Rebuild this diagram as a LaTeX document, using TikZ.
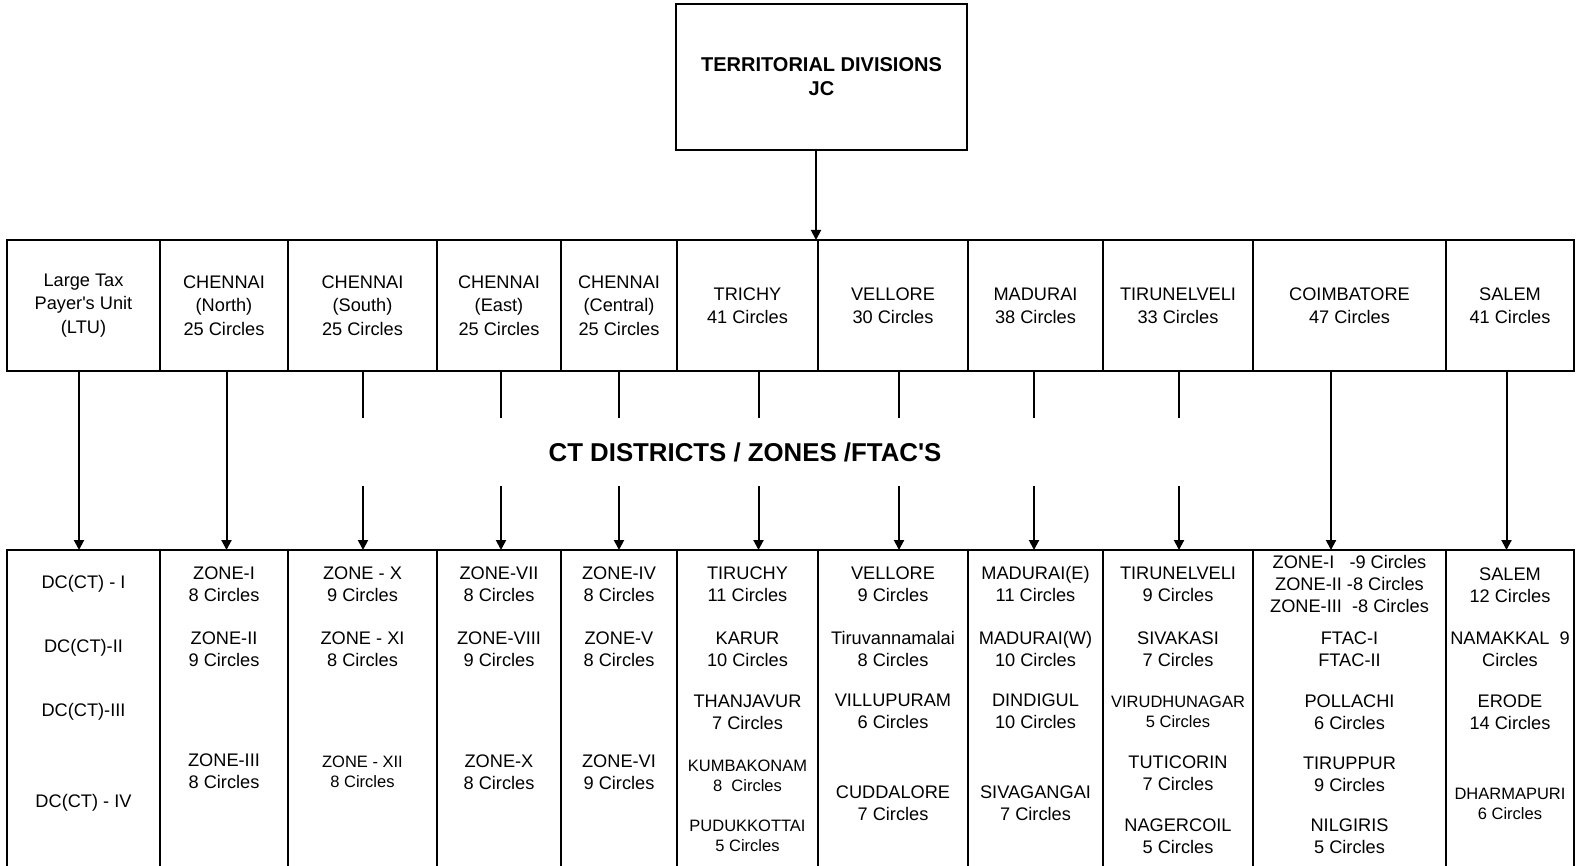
\documentclass[tikz,border=0pt]{standalone}
\usepackage{fontspec}
\setmainfont{Liberation Sans}[Ligatures=TeXOff]
\usetikzlibrary{arrows.meta}

\begin{document}
\begin{tikzpicture}[
    x=1pt, y=-1pt,
    headbox/.style={rectangle, draw=black, line width=2.6pt, minimum width=291pt, minimum height=146pt, inner sep=0pt, outer sep=0pt, align=center, font=\bfseries\fontsize{20}{24}\selectfont},
    topbox/.style={rectangle, draw=black, line width=2.6pt, minimum height=131pt, inner sep=0pt, outer sep=0pt, align=center, font=\fontsize{18.2}{23.3}\selectfont},
    lowbox/.style={rectangle, draw=black, line width=2.6pt, minimum height=330pt, inner sep=0pt, outer sep=0pt},
    item/.style={align=center, inner sep=0pt, font=\fontsize{18.2}{21.7}\selectfont},
    smallitem/.style={item, font=\fontsize{16.5}{19.5}\selectfont},
    band/.style={fill=white, inner sep=0pt, minimum width=900pt, minimum height=68pt, font=\bfseries\fontsize{25.8}{30}\selectfont},
    arrow/.style={line width=2pt, -{Triangle[length=10pt, width=10pt]}}
]
\useasboundingbox (0,0) rectangle (1585,866);

% head
\node (head) [headbox] at (821.5,77) {TERRITORIAL DIVISIONS\\JC};

% divisions
\node (ltu) [topbox, minimum width=153pt] at (83.5,305.5) {Large Tax\\Payer's Unit\\(LTU)};
\node (chN) [topbox, minimum width=128pt] at (224,305.5) {CHENNAI\\(North)\\25 Circles};
\node (chS) [topbox, minimum width=149pt] at (362.5,305.5) {CHENNAI\\(South)\\25 Circles};
\node (chE) [topbox, minimum width=124pt] at (499,305.5) {CHENNAI\\(East)\\25 Circles};
\node (chC) [topbox, minimum width=116pt] at (619,305.5) {CHENNAI\\(Central)\\25 Circles};
\node (trichy) [topbox, minimum width=141pt] at (747.5,305.5) {TRICHY\\41 Circles};
\node (vellore) [topbox, minimum width=150pt] at (893,305.5) {VELLORE\\30 Circles};
\node (madurai) [topbox, minimum width=135pt] at (1035.5,305.5) {MADURAI\\38 Circles};
\node (tvl) [topbox, minimum width=150pt] at (1178,305.5) {TIRUNELVELI\\33 Circles};
\node (cbe) [topbox, minimum width=193pt] at (1349.5,305.5) {COIMBATORE\\47 Circles};
\node (salem) [topbox, minimum width=128pt] at (1510,305.5) {SALEM\\41 Circles};

% districts / zones
\node (ltu-z) [lowbox, minimum width=153pt] at (83.5,715) {};
\node (chN-z) [lowbox, minimum width=128pt] at (224,715) {};
\node (chS-z) [lowbox, minimum width=149pt] at (362.5,715) {};
\node (chE-z) [lowbox, minimum width=124pt] at (499,715) {};
\node (chC-z) [lowbox, minimum width=116pt] at (619,715) {};
\node (trichy-z) [lowbox, minimum width=141pt] at (747.5,715) {};
\node (vellore-z) [lowbox, minimum width=150pt] at (893,715) {};
\node (madurai-z) [lowbox, minimum width=135pt] at (1035.5,715) {};
\node (tvl-z) [lowbox, minimum width=150pt] at (1178,715) {};
\node (cbe-z) [lowbox, minimum width=193pt] at (1349.5,715) {};
\node (salem-z) [lowbox, minimum width=128pt] at (1510,715) {};

% LTU
\node (dc1) [item] at (83.5,584) {DC(CT) - I};
\node (dc2) [item] at (83.5,648) {DC(CT)-II};
\node (dc3) [item] at (83.5,712) {DC(CT)-III};
\node (dc4) [item] at (83.5,803) {DC(CT) - IV};

% Chennai
\node (z1) [item] at (224,584) {ZONE-I\\8 Circles};
\node (z2) [item] at (224,649) {ZONE-II\\9 Circles};
\node (z3) [item] at (224,771) {ZONE-III\\8 Circles};
\node (z10) [item] at (362.5,584) {ZONE - X\\9 Circles};
\node (z11) [item] at (362.5,649) {ZONE - XI\\8 Circles};
\node (z12) [smallitem] at (362.5,772) {ZONE - XII\\8 Circles};
\node (z7) [item] at (499,584) {ZONE-VII\\8 Circles};
\node (z8) [item] at (499,649) {ZONE-VIII\\9 Circles};
\node (zx) [item] at (499,772) {ZONE-X\\8 Circles};
\node (z4) [item] at (619,584) {ZONE-IV\\8 Circles};
\node (z5) [item] at (619,649) {ZONE-V\\8 Circles};
\node (z6) [item] at (619,772) {ZONE-VI\\9 Circles};

% Trichy
\node (tiruchy) [item] at (747.5,584) {TIRUCHY\\11 Circles};
\node (karur) [item] at (747.5,649) {KARUR\\10 Circles};
\node (thanjavur) [item] at (747.5,712) {THANJAVUR\\7 Circles};
\node (kumbakonam) [smallitem] at (747.5,776) {KUMBAKONAM\\8\ \ Circles};
\node (pudukkottai) [smallitem] at (747.5,836) {PUDUKKOTTAI\\5 Circles};

% Vellore
\node (vlr) [item] at (893,584) {VELLORE\\9 Circles};
\node (tvm) [item] at (893,649) {Tiruvannamalai\\8 Circles};
\node (villupuram) [item] at (893,711) {VILLUPURAM\\6 Circles};
\node (cuddalore) [item] at (893,803) {CUDDALORE\\7 Circles};

% Madurai
\node (mdue) [item] at (1035.5,584) {MADURAI(E)\\11 Circles};
\node (mduw) [item] at (1035.5,649) {MADURAI(W)\\10 Circles};
\node (dindigul) [item] at (1035.5,711) {DINDIGUL\\10 Circles};
\node (sivagangai) [item] at (1035.5,803) {SIVAGANGAI\\7 Circles};

% Tirunelveli
\node (tnv) [item] at (1178,584) {TIRUNELVELI\\9 Circles};
\node (sivakasi) [item] at (1178,649) {SIVAKASI\\7 Circles};
\node (virudhunagar) [smallitem] at (1178,712) {VIRUDHUNAGAR\\5 Circles};
\node (tuticorin) [item] at (1178,773) {TUTICORIN\\7 Circles};
\node (nagercoil) [item] at (1178,836) {NAGERCOIL\\5 Circles};

% Coimbatore
\node (cbezones) [item] at (1349.5,584) {ZONE-I\ \ \ -9 Circles\\ZONE-II -8 Circles\\ZONE-III\ \ -8 Circles};
\node (ftac) [item] at (1349.5,649) {FTAC-I\\FTAC-II};
\node (pollachi) [item] at (1349.5,712) {POLLACHI\\6 Circles};
\node (tiruppur) [item] at (1349.5,774) {TIRUPPUR\\9 Circles};
\node (nilgiris) [item] at (1349.5,836) {NILGIRIS\\5 Circles};

% Salem
\node (slm) [item] at (1510,585) {SALEM\\12 Circles};
\node (namakkal) [item] at (1510,649) {NAMAKKAL\ \ 9\\Circles};
\node (erode) [item] at (1510,712) {ERODE\\14 Circles};
\node (dharmapuri) [smallitem] at (1510,804) {DHARMAPURI\\6 Circles};

% arrows
\draw [arrow] ([xshift=-5.5pt]head.south) -- ([xshift=-5.5pt]head.south |- vellore.north);
\draw [arrow] ([xshift=-4.5pt]ltu.south) -- ([xshift=-4.5pt]ltu-z.north);
\draw [arrow] ([xshift=2.5pt]chN.south) -- ([xshift=2.5pt]chN-z.north);
\draw [arrow] ([xshift=0.5pt]chS.south) -- ([xshift=0.5pt]chS-z.north);
\draw [arrow] ([xshift=2pt]chE.south) -- ([xshift=2pt]chE-z.north);
\draw [arrow] (chC.south) -- (chC-z.north);
\draw [arrow] ([xshift=11pt]trichy.south) -- ([xshift=11pt]trichy-z.north);
\draw [arrow] ([xshift=6pt]vellore.south) -- ([xshift=6pt]vellore-z.north);
\draw [arrow] ([xshift=-1.5pt]madurai.south) -- ([xshift=-1.5pt]madurai-z.north);
\draw [arrow] ([xshift=1pt]tvl.south) -- ([xshift=1pt]tvl-z.north);
\draw [arrow] ([xshift=-18.5pt]cbe.south) -- ([xshift=-18.5pt]cbe-z.north);
\draw [arrow] ([xshift=-3.5pt]salem.south) -- ([xshift=-3.5pt]salem-z.north);

% band label
\node (ctd) [band] at (745,452) {CT DISTRICTS / ZONES /FTAC'S};

\end{tikzpicture}
\end{document}
